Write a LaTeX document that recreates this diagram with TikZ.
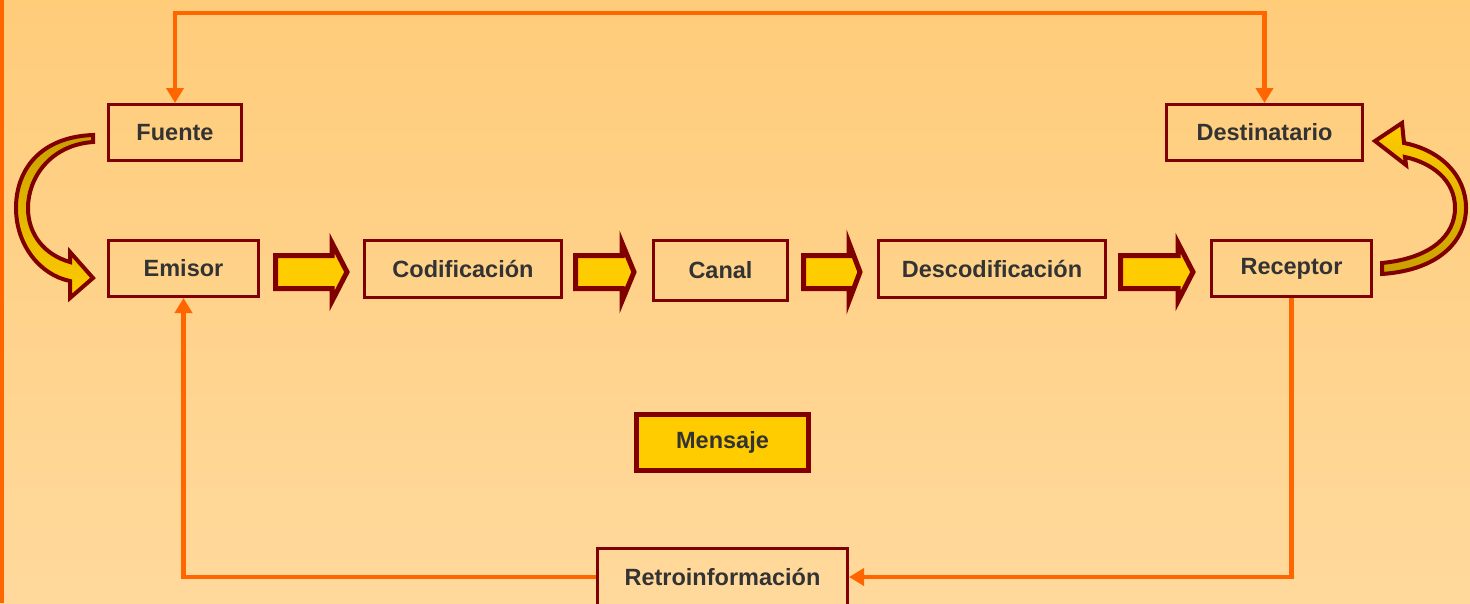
\documentclass[tikz,border=0pt]{standalone}
\usepackage{fontspec}
\setmainfont{Liberation Sans}
\usetikzlibrary{arrows.meta}
\definecolor{bgtop}{RGB}{255,204,122}
\definecolor{bgbot}{RGB}{255,217,156}
\definecolor{maroon}{RGB}{128,0,0}
\definecolor{orng}{RGB}{255,102,0}
\definecolor{yel}{RGB}{255,204,0}
\definecolor{gold}{RGB}{201,160,0}
\definecolor{txt}{RGB}{51,51,51}
\tikzset{
  box/.style={draw=maroon, line width=3pt, rectangle, inner sep=0pt,
    text=txt, font=\fontsize{23.5}{28}\selectfont\bfseries},
  msgbox/.style={box, fill=yel, line width=5pt},
  oline/.style={draw=orng, line width=4.5pt},
  otip/.style={-{Triangle[width=17pt,length=15pt]}},
  blk/.style={draw=maroon, fill=yel, line width=5pt, line join=miter},
  curv/.style={draw=maroon, line width=4pt, line join=miter}
}
\newcommand\blkarr[3]{\draw[blk] (#1,255.5) -- (#2,255.5) -- (#2,243) -- (#3,272) -- (#2,301) -- (#2,288.5) -- (#1,288.5) -- cycle;}
\begin{document}
\begin{tikzpicture}[x=1pt,y=-1pt]
\useasboundingbox (0,0) rectangle (1470,603);
\clip (0,0) rectangle (1470,603);
\shade[top color=bgtop, bottom color=bgbot] (0,0) rectangle (1470,603);
\fill[orng] (0,0) rectangle (4,603);

% boxes
\node[box, minimum width=133pt, minimum height=56pt] (fuente) at (175,132.5) {Fuente};
\node[box, minimum width=196pt, minimum height=56pt] (dest) at (1264.5,132.5) {Destinatario};
\node[box, minimum width=150pt, minimum height=56pt] (emisor) at (183.5,268.5) {Emisor};
\node[box, minimum width=197pt, minimum height=57pt] (codif) at (463,269) {Codificación};
\node[box, minimum width=134pt, minimum height=60pt] (canal) at (720.5,270.5) {Canal};
\node[box, minimum width=227pt, minimum height=57pt] (descod) at (992,269) {Descodificación};
\node[box, minimum width=160pt, minimum height=56pt] (recep) at (1291.5,268.5) {Receptor};
\node[msgbox, minimum width=172pt, minimum height=56pt] (msg) at (722.5,442.5) {Mensaje};
\node[box, minimum width=250pt, minimum height=57pt] (retro) at (722.5,577) {Retroinformación};

% orange connectors
\coordinate (top) at (0,13);
\draw[oline, {Triangle[width=17pt,length=15pt]}-{Triangle[width=17pt,length=15pt]}]
  (fuente.north) -- (fuente.north |- top) -| (dest.north);
\draw[oline, otip] (recep.south) |- (retro.east);
\draw[oline, otip] (retro.west) -| (emisor.south);

% block arrows
\blkarr{275.5}{332}{347}
\blkarr{575.5}{622}{634}
\blkarr{803.5}{849}{860}
\blkarr{1120.5}{1178}{1193}

% curved arrows
\draw[curv, top color=gold, bottom color=yel]
  (93,135) .. controls (40,137) and (16,170) .. (16,208)
  .. controls (16,245) and (40,275) .. (70,281)
  -- (70,298) -- (93,278) -- (70,252) -- (70,262)
  .. controls (45,255) and (28,235) .. (28,208)
  .. controls (28,178) and (50,145) .. (93,142) -- cycle;
\draw[curv, top color=yel, bottom color=gold]
  (1382,274) .. controls (1440,270) and (1466,240) .. (1466,208)
  .. controls (1466,175) and (1440,150) .. (1404,143)
  -- (1402,123) -- (1375,141) -- (1406,165) -- (1405,157)
  .. controls (1432,163) and (1455,180) .. (1455,208)
  .. controls (1455,235) and (1432,258) .. (1382,263) -- cycle;
\end{tikzpicture}
\end{document}
